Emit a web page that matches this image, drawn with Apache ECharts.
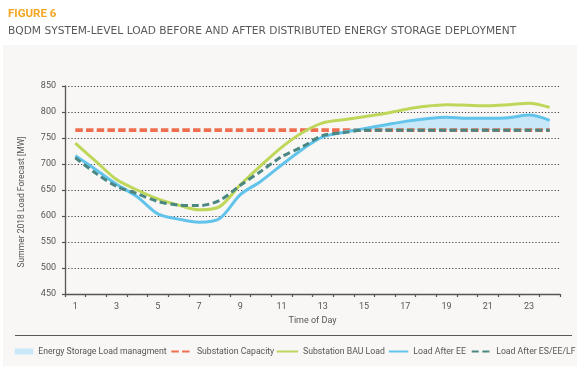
<!DOCTYPE html>
<html>
<head>
<meta charset="utf-8">
<script src="https://cdn.jsdelivr.net/npm/echarts@6/dist/echarts.min.js"></script>
<style>html,body{margin:0;padding:0;background:#fff;}#c{width:578px;height:366px;}</style>
</head>
<body>
<div id="c"></div>
<script>
const hours = ['1','2','3','4','5','6','7','8','9','10','11','12','13','14','15','16','17','18','19','20','21','22','23','24'];
const yTicks = { min: 450, max: 850, interval: 50 };
const substationCapacity = [765,765,765,765,765,765,765,765,765,765,765,765,765,765,765,765,765,765,765,765,765,765,765,765];
const substationBAU = [740,705,670,650,633,621,612,618,660,697,732,760,779,785,791,797,805,811,814,813,812,814,817,809];
const loadAfterEE = [716,689,661,637,604,594,588,595,641,667,698,728,752,761,768,775,782,787,790,788,788,789,794,784];
const loadAfterES = [712,682,657,643,628,621,620,630,659,686,714,733,755,760,765,765,765,765,765,765,765,765,765,765];

// storage shaving band: portion of "Load After EE" that exceeds the substation capacity
const storageBand = loadAfterEE.map((v, i) => Math.max(0, v - substationCapacity[i]));

const chart = echarts.init(document.getElementById('c'), null, { renderer: 'canvas' });
const axisColor = '#555555';
const font = 'Roboto';

function legendAt(name, left, width, extra) {
  return Object.assign({
    left: left, top: 347, itemWidth: width, itemHeight: 6, itemGap: 0, padding: 0,
    itemStyle: { opacity: 0 },
    textStyle: { color: '#555', fontSize: 8.7, fontFamily: font },
    data: [name]
  }, extra || {});
}

chart.setOption({
  backgroundColor: '#ffffff',
  animation: false,
  title: [
    { text: 'FIGURE 6', left: 3, top: 3, textStyle: { color: '#f5a623', fontSize: 11.5, fontWeight: 'bold', fontFamily: font } },
    { text: 'BQDM SYSTEM-LEVEL LOAD BEFORE AND AFTER DISTRIBUTED ENERGY STORAGE DEPLOYMENT', left: 3, top: 21,
      textStyle: { color: '#58595b', fontSize: 10.65, fontWeight: 'normal', fontFamily: 'DejaVu Sans' } }
  ],
  graphic: [
    { type: 'rect', z: -10, silent: true, shape: { x: 3, y: 45, width: 574, height: 321 }, style: { fill: '#f8f7f5' } },
    { type: 'line', silent: true, shape: { x1: 15, y1: 335.5, x2: 572, y2: 335.5 }, style: { stroke: '#58595b', lineWidth: 1.2 } },
    { type: 'text', silent: true, x: 22, y: 202, rotation: Math.PI / 2,
      style: { text: 'Summer 2018 Load Forecast [MW]', fill: axisColor, font: '8.5px ' + font, textAlign: 'center', textVerticalAlign: 'middle' } }
  ],
  grid: { left: 65, right: 18, top: 86, bottom: 72, containLabel: false },
  legend: [
    legendAt({ name: 'Energy Storage Load managment', icon: 'rect', itemStyle: { color: '#c8e8f8', opacity: 1 } }, 14.7, 18.5),
    legendAt('Substation Capacity', 170.3, 20.6),
    legendAt('Substation BAU Load', 275.7, 21.3),
    legendAt('Load After EE', 387.8, 19.5),
    legendAt('Load After ES/EE/LF', 470.7, 19.5)
  ],
  xAxis: {
    type: 'category', data: hours, boundaryGap: true,
    name: 'Time of Day', nameLocation: 'middle', nameGap: 20,
    nameTextStyle: { color: axisColor, fontSize: 9, fontFamily: font },
    axisLine: { lineStyle: { color: axisColor, width: 1.3 } },
    axisTick: { show: true, interval: 0, length: 3, lineStyle: { color: axisColor, width: 1.2 } },
    axisLabel: { interval: 1, color: axisColor, fontSize: 9, fontFamily: font, margin: 8 },
    splitLine: { show: false }
  },
  yAxis: {
    type: 'value', min: yTicks.min, max: yTicks.max, interval: yTicks.interval,
    axisLine: { show: true, lineStyle: { color: axisColor, width: 1.3 } },
    axisTick: { show: true, length: 3, lineStyle: { color: axisColor, width: 1.2 } },
    axisLabel: { color: axisColor, fontSize: 9, fontFamily: font, margin: 9 },
    splitLine: { show: true, lineStyle: { color: '#444', width: 1.2, type: [1.2, 2] } }
  },
  series: [
    { name: '_base', type: 'line', stack: 'es', data: substationCapacity, symbol: 'none', smooth: 0.3,
      lineStyle: { width: 0, opacity: 0 }, silent: true, z: 1 },
    { name: 'Energy Storage Load managment', type: 'line', stack: 'es', data: storageBand, symbol: 'none', smooth: 0.3,
      lineStyle: { width: 0, opacity: 0 }, areaStyle: { color: '#c8e8f8', opacity: 1 }, itemStyle: { color: '#c8e8f8' }, z: 1 },
    { name: 'Substation Capacity', type: 'line', data: substationCapacity, symbol: 'none',
      lineStyle: { color: '#f06e50', width: 3.8, type: [7.5, 3.2], cap: 'butt' }, itemStyle: { color: '#f06e50' }, z: 2 },
    { name: 'Substation BAU Load', type: 'line', data: substationBAU, symbol: 'none', smooth: 0.3,
      lineStyle: { color: '#bed75a', width: 3 }, itemStyle: { color: '#bed75a' }, z: 3 },
    { name: 'Load After EE', type: 'line', data: loadAfterEE, symbol: 'none', smooth: 0.3,
      lineStyle: { color: '#62c3eb', width: 3 }, itemStyle: { color: '#62c3eb' }, z: 4 },
    { name: 'Load After ES/EE/LF', type: 'line', data: loadAfterES, symbol: 'none', smooth: 0.3,
      lineStyle: { color: '#4b8782', width: 3, type: [7, 3.7], cap: 'butt' }, itemStyle: { color: '#4b8782' }, z: 5 }
  ]
});
</script>
</body>
</html>
